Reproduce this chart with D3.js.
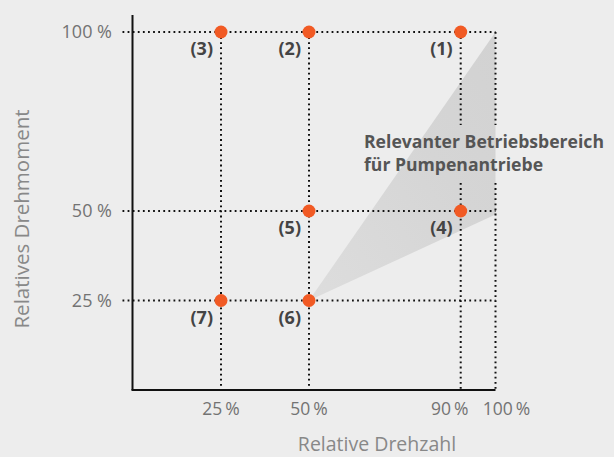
<!DOCTYPE html>
<html><head><meta charset="utf-8">
<script src="https://cdn.jsdelivr.net/npm/d3@7"></script>
<style>
html,body{margin:0;padding:0;background:#ededed;}
svg{display:block;font-family:"Open Sans",sans-serif;}
</style></head>
<body>
<svg id="c" width="614" height="457"></svg>
<script>
// ---- data ----
const xTicks = [25, 50, 90, 100];
const xTickLabels = ["25\u2009%", "50\u2009%", "90\u2009%", "100\u2009%"];
const yTicks = [25, 50, 100];
const yTickLabels = ["25 %", "50 %", "100 %"];
const pointLabels = ["(1)", "(2)", "(3)", "(4)", "(5)", "(6)", "(7)"];
const pointSpeed  = [90, 50, 25, 90, 50, 50, 25];
const pointTorque = [100, 100, 100, 50, 50, 25, 25];
const regionSpeed  = [50, 100, 100];
const regionTorque = [25, 100, 49];
const xTitle = "Relative Drehzahl";
const yTitle = "Relatives Drehmoment";
const regionLabel = ["Relevanter Betriebsbereich", "für Pumpenantriebe"];

// ---- scales ----
const x = d3.scaleLinear().domain([0, 25, 50, 90, 100]).range([132.5, 221, 309, 460.7, 495.5]);
const y = d3.scaleLinear().domain([0, 100]).range([390, 32]);

const svg = d3.select("#c");
const defs = svg.append("defs");
const grad = defs.append("linearGradient").attr("id", "g")
  .attr("x1", "0%").attr("y1", "100%").attr("x2", "100%").attr("y2", "0%");
grad.append("stop").attr("offset", "0%").attr("stop-color", "#dddddd");
grad.append("stop").attr("offset", "60%").attr("stop-color", "#d5d5d5");
grad.append("stop").attr("offset", "100%").attr("stop-color", "#d2d2d2");

// shaded region
const region = regionSpeed.map((s, i) => [x(s), y(regionTorque[i])]);
svg.append("path").attr("d", d3.line()(region) + "Z").attr("fill", "url(#g)");

// region label (measured first for gaps)
const lbl = svg.append("text").attr("x", 364).attr("y", 148)
  .attr("font-size", 17.6).attr("font-weight", 700).attr("fill", "#555");
regionLabel.forEach((t, i) => lbl.append("tspan").attr("x", 364).attr("dy", i ? 23 : 0).text(t));
const bb = lbl.node().getBBox();
const gapTop = bb.y - 4, gapBot = bb.y + bb.height + 7;

const dot = {stroke: "#111", "stroke-width": 2, "stroke-dasharray": "1.8,3.3"};
const grid = svg.append("g");
function dline(x1, y1, x2, y2) {
  const l = grid.append("line").attr("x1", x1).attr("y1", y1).attr("x2", x2).attr("y2", y2);
  Object.entries(dot).forEach(([k, v]) => l.attr(k, v));
}
// horizontal dotted lines
yTicks.forEach(t => dline(x(0) - 10, y(t), x(100), y(t)));
// vertical dotted lines
xTicks.forEach(t => {
  const xx = x(t);
  if (xx > bb.x && xx < bb.x + bb.width) {
    dline(xx, y(100), xx, gapTop);
    dline(xx, gapBot, xx, y(0));
  } else {
    dline(xx, y(100), xx, y(0));
  }
});

// axes lines
svg.append("line").attr("x1", x(0)).attr("x2", x(0)).attr("y1", 15).attr("y2", y(0))
  .attr("stroke", "#111").attr("stroke-width", 2);
svg.append("line").attr("x1", x(0) - 1).attr("x2", x(100)).attr("y1", y(0)).attr("y2", y(0))
  .attr("stroke", "#111").attr("stroke-width", 2);

// tick labels
const xShift = {90: -11, 100: 11};
svg.append("g").selectAll("text").data(xTicks).join("text")
  .attr("x", d => x(d) + (xShift[d] || 0)).attr("y", 415)
  .attr("text-anchor", "middle").attr("font-size", 17.5).attr("fill", "#737373")
  .text((d, i) => xTickLabels[i]);
svg.append("g").selectAll("text").data(yTicks).join("text")
  .attr("x", 112).attr("y", d => y(d)).attr("dy", "0.35em")
  .attr("text-anchor", "end").attr("font-size", 18).attr("fill", "#737373")
  .text((d, i) => yTickLabels[i]);

// axis titles
svg.append("text").attr("x", 377).attr("y", 451).attr("text-anchor", "middle")
  .attr("font-size", 19.5).attr("fill", "#888").text(xTitle);
svg.append("text").attr("transform", "translate(29,219) rotate(-90)").attr("text-anchor", "middle")
  .attr("font-size", 20.5).attr("fill", "#888").text(yTitle);

// points
svg.append("g").selectAll("circle").data(pointLabels).join("circle")
  .attr("cx", (d, i) => x(pointSpeed[i])).attr("cy", (d, i) => y(pointTorque[i]))
  .attr("r", 6.5).attr("fill", "#f15a24");
svg.append("g").selectAll("text").data(pointLabels).join("text")
  .attr("x", (d, i) => x(pointSpeed[i]) - 8).attr("y", (d, i) => y(pointTorque[i]) + 23)
  .attr("text-anchor", "end").attr("font-size", 18).attr("font-weight", 700).attr("fill", "#444")
  .text(d => d);
</script>
</body></html>
